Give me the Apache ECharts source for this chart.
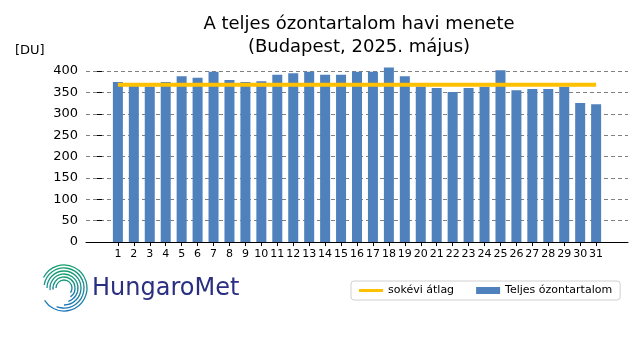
<!DOCTYPE html>
<html><head><meta charset="utf-8">
<script src="https://cdn.jsdelivr.net/npm/echarts@6/dist/echarts.min.js"></script>
<style>html,body{margin:0;padding:0;background:#fff}#c{width:640px;height:360px}</style>
</head><body><div id="c"></div>
<script>
const days = [1,2,3,4,5,6,7,8,9,10,11,12,13,14,15,16,17,18,19,20,21,22,23,24,25,26,27,28,29,30,31];
const ozone = [374,366,364,374,388,384,398,379,374,376,391,395,398,391,391,398,398,408,388,364,360,351,360,363,402,355,358,358,363,325,322];
const longTermMean = [368,368,368,368,368,368,368,368,368,368,368,368,368,368,368,368,368,368,368,368,368,368,368,368,368,368,368,368,368,368,368];
const yTicks = [0,50,100,150,200,250,300,350,400];
const titleLines = ['A teljes ózontartalom havi menete','(Budapest, 2025. május)'];

const chart = echarts.init(document.getElementById('c'), null, {renderer:'canvas'});
const font = 'DejaVu Sans';
const cx = 64, cy = 288;
const logoGrad = new echarts.graphic.LinearGradient(0,0,0,1,[{offset:0,color:'#15a06a'},{offset:1,color:'#1f74bd'}]);
const arcs = [
  {r:23, s:1.15, e:2.82},
  {r:20, s:1.05, e:2.62},
  {r:17, s:1.0, e:2.5},
  {r:14, s:0.95, e:2.4},
  {r:11, s:0.95, e:2.3},
  {r:8, s:1.0, e:2.2}
].map(a => ({
  type:'arc', silent:true,
  shape:{cx:cx, cy:cy, r:a.r, startAngle:a.s*Math.PI, endAngle:a.e*Math.PI, clockwise:true},
  style:{stroke:logoGrad, lineWidth:1.3, fill:null}
}));

const barData = days.map((d,i) => [d, ozone[i]]);
const meanData = days.map((d,i) => [d, longTermMean[i]]);

chart.setOption({
  animation:false,
  backgroundColor:'#fff',
  textStyle:{fontFamily:font},
  title:{
    text: titleLines.join('\n'),
    left: 354, top: 8, textAlign:'center',
    textStyle:{fontFamily:font, fontSize:18, fontWeight:'normal', color:'#000', lineHeight:23}
  },
  legend:{
    left:351, top:281, width:268, height:20,
    padding:[4,8,4,8],
    borderColor:'#d0d0d0', borderWidth:1, borderRadius:3,
    itemGap:22, itemWidth:24, itemHeight:7,
    textStyle:{fontFamily:font, fontSize:11, color:'#000'},
    data:[
      {name:'sokévi átlag', icon:'path://M0,2H24V5H0Z', itemStyle:{color:'#ffc000'}},
      {name:'Teljes ózontartalom', icon:'rect', itemStyle:{color:'#4f81bd'}}
    ]
  },
  grid:{left:86, right:12, top:71, bottom:118, containLabel:false},
  xAxis:{
    type:'value', min:-1, max:33, interval:1,
    axisLine:{show:true, onZero:false, lineStyle:{color:'#000', width:1}},
    axisTick:{show:true, length:4, customValues:days, lineStyle:{color:'#000'}},
    splitLine:{show:false},
    axisLabel:{fontFamily:font, fontSize:11, color:'#000', margin:7, customValues:days,
      formatter: v => String(Math.round(v))}
  },
  yAxis:{
    type:'value', min:0, max:400, interval:50,
    axisLine:{show:false},
    axisTick:{show:true, length:5, lineStyle:{color:'#000'}},
    axisLabel:{fontFamily:font, fontSize:13, color:'#000', margin:8},
    splitLine:{show:true, lineStyle:{color:'#808080', type:[4,3], width:1}}
  },
  graphic:[
    {type:'text', left:15, top:44, style:{text:'[DU]', font:'13px "DejaVu Sans"', fill:'#000'}},
    {type:'text', left:92, top:277, style:{text:'HungaroMet', font:'24px "DejaVu Sans"', fill:'#2b2f80'}},
    ...arcs
  ],
  series:[
    {name:'Teljes ózontartalom', type:'bar', data:barData, barWidth:10, clip:false,
     itemStyle:{color:'#4f81bd'}, z:2},
    {name:'sokévi átlag', type:'line', data:meanData, symbol:'none',
     lineStyle:{color:'#ffc000', width:4}, itemStyle:{color:'#ffc000'}, z:3}
  ]
});
</script></body></html>
